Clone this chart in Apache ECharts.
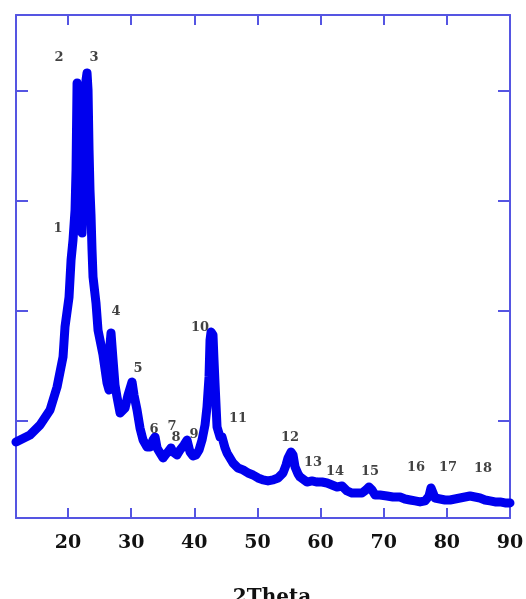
<!DOCTYPE html>
<html>
<head>
<meta charset="utf-8">
<script src="https://cdn.jsdelivr.net/npm/echarts@6/dist/echarts.min.js"></script>
<style>html,body{margin:0;padding:0;background:#fff}#c{width:526px;height:599px}</style>
</head>
<body>
<div id="c"></div>
<script>
// 2Theta (degrees)
const twoTheta = [11.76,13.98,15.57,17.15,18.26,19.21,19.52,20.16,20.48,20.79,21.11,21.27,21.43,21.58,21.74,21.90,22.06,22.22,22.38,22.53,22.85,23.01,23.17,23.33,23.48,23.64,23.80,23.96,24.43,24.75,25.54,26.18,26.49,26.65,26.81,27.13,27.44,27.76,28.24,28.55,29.03,29.50,30.14,30.45,30.93,31.40,31.88,32.51,32.99,33.46,33.78,34.10,34.57,35.05,35.52,35.84,36.31,36.63,37.26,37.74,38.37,38.85,39.32,39.80,40.27,40.75,41.22,41.70,42.01,42.33,42.49,42.65,42.96,43.12,43.28,43.60,44.07,44.39,44.87,45.18,46.13,46.92,47.72,48.51,49.30,50.09,50.88,51.67,52.47,53.26,54.05,54.53,54.84,55.32,55.64,55.96,56.43,56.74,57.38,57.85,58.64,59.44,60.23,61.02,61.81,62.60,63.40,64.19,64.98,65.77,66.56,67.20,67.67,68.15,68.62,69.41,70.52,71.47,72.58,73.37,74.17,74.96,75.75,76.54,77.17,77.49,77.81,78.12,78.92,79.71,80.50,81.29,82.08,82.87,83.67,84.46,85.25,86.04,86.84,87.63,88.42,89.21,90.00];
// Intensity (counts)
const intensity = [809,873,964,1100,1309,1582,1855,2127,2464,2645,2918,3282,4073,3736,3464,3555,3191,2709,3009,3464,4100,4164,4009,3464,3100,2873,2555,2309,2073,1827,1600,1345,1282,1691,1800,1555,1327,1218,1073,1055,1118,1236,1355,1236,1100,936,827,764,764,827,855,755,709,664,700,718,755,718,691,736,782,827,718,682,691,736,827,964,1127,1400,1736,1809,1782,1555,1345,945,855,855,755,709,618,573,555,527,509,482,464,455,464,482,527,600,664,718,691,582,518,491,464,445,455,445,445,436,418,400,409,364,345,345,345,373,400,373,327,327,318,309,309,291,282,273,264,273,318,391,345,300,291,282,282,291,300,309,318,309,300,282,273,264,264,255,255];
// Peak annotation labels and their anchor (2Theta, intensity)
const peakNames = ['1','2','3','4','5','6','7','8','9','10','11','12','13','14','15','16','17','18'];
const peakLabelX = [18.42,18.57,24.12,27.60,31.09,33.62,36.47,37.10,39.96,40.91,46.92,55.16,58.80,62.29,67.83,75.12,80.18,85.73];
const peakLabelY = [2745,4300,4300,1991,1473,918,945,845,873,1845,1018,845,618,536,536,573,573,564];
// Axis ticks
const xTicks = [20,30,40,50,60,70,80,90];
const yTicks = [1000,2000,3000,4000];

const lineData = twoTheta.map((x,i)=>[x,intensity[i]]);
const labelData = peakNames.map((n,i)=>({name:n,value:[peakLabelX[i],peakLabelY[i]]}));

const axisColor = '#5555e2';
const chart = echarts.init(document.getElementById('c'));
const xBase = {
  type:'value', min:11.76, max:90,
  axisLine:{show:true,lineStyle:{color:axisColor,width:2}},
  splitLine:{show:false},
  axisTick:{show:true,inside:true,length:10,customValues:xTicks.slice(0,7),lineStyle:{color:axisColor,width:2}}
};
const yBase = {
  type:'value', min:118, max:4691,
  axisLine:{show:true,lineStyle:{color:axisColor,width:2}},
  splitLine:{show:false},
  axisLabel:{show:false},
  axisTick:{show:true,inside:true,length:12,customValues:yTicks,lineStyle:{color:axisColor,width:2}}
};
chart.setOption({
  animation:false,
  grid:{left:16,right:16,top:15,bottom:81,containLabel:false,outerBoundsMode:'none'},
  xAxis:[
    Object.assign({},xBase,{position:'bottom',
      axisLabel:{show:true,customValues:xTicks,margin:16,color:'#111',fontFamily:'DejaVu Serif',fontWeight:'bold',fontSize:19},
      name:'2Theta',nameLocation:'middle',nameGap:70,
      nameTextStyle:{color:'#111',fontFamily:'DejaVu Serif',fontWeight:'bold',fontSize:20,padding:[0,0,0,18]}}),
    Object.assign({},xBase,{position:'top',axisLabel:{show:false}})
  ],
  yAxis:[
    Object.assign({},yBase,{position:'left'}),
    Object.assign({},yBase,{position:'right'})
  ],
  series:[
    {type:'line',data:lineData,showSymbol:false,symbol:'none',
     lineStyle:{color:'#0000ee',width:9,join:'round',cap:'round'},z:2},
    {type:'scatter',data:labelData,symbolSize:0,z:3,
     label:{show:true,position:'inside',formatter:'{b}',color:'#111',fontFamily:'DejaVu Serif',fontWeight:'bold',fontSize:13}}
  ]
});
</script>
</body>
</html>
